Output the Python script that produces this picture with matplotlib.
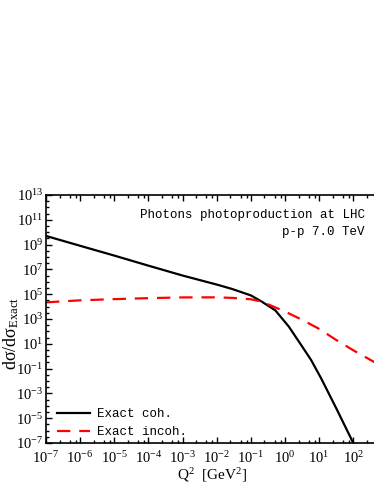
import numpy as np
import matplotlib
matplotlib.use('Agg')
import matplotlib.pyplot as plt
from matplotlib.ticker import FixedLocator, NullFormatter

plt.rcParams['font.family'] = 'Liberation Serif'
plt.rcParams['mathtext.fontset'] = 'custom'
plt.rcParams['mathtext.rm'] = 'Liberation Serif'
plt.rcParams['mathtext.it'] = 'Liberation Serif:italic'

# Datos

q2_coh = [1e-7, 1e-6, 1e-5, 1e-4, 1e-3, 1e-2, 2.75e-2, 1e-1, 2.1e-1, 5.2e-1,
          1.3, 3.2, 5.8, 11.5, 32, 100, 130]
sig_coh = [5e9, 8e8, 1.3e8, 2e7, 3.2e6, 6e5, 2.7e5, 8e4, 2.5e4, 5e3,
           2.4e2, 5.9, 0.5, 1.6e-2, 6e-5, 1e-7, 2.5e-8]

q2_incoh = [1e-7, 1e-6, 1e-5, 1e-4, 1e-3, 1e-2, 3e-2, 1e-1, 2.1e-1, 1.0,
            3.2, 10, 32, 100, 500]
sig_incoh = [2.2e4, 3.2e4, 4e4, 4.8e4, 5.5e4, 5.6e4, 5e4, 3.9e4, 2.5e4, 4e3,
             8.5e2, 1.6e2, 2e1, 3e0, 2.5e-1]

# Grafica

fig = plt.figure(figsize=(3.74, 4.84), dpi=100)
ax = fig.add_axes([46/374, 41/484, 332/374, 248/484])

ax.plot(q2_coh, sig_coh, color='black', lw=1.6, label='Exact coh.')
ax.plot(q2_incoh, sig_incoh, color='red', lw=1.6, dashes=(6, 4), label='Exact incoh.')

ax.set_xscale('log')
ax.set_yscale('log')
ax.set_xlim(1e-7, 5.3e2)
ax.set_ylim(1e-7, 1e13)

ax.xaxis.set_major_locator(FixedLocator([10.0**k for k in range(-7, 3)]))
ax.set_xticklabels(['$10^{%d}$' % k for k in range(-7, 3)])
ax.xaxis.set_minor_locator(FixedLocator([s * 10.0**k for k in range(-7, 3) for s in (2.5, 5, 7.5)]))
ax.xaxis.set_minor_formatter(NullFormatter())

ax.yaxis.set_major_locator(FixedLocator([10.0**k for k in range(-7, 14, 2)]))
ax.set_yticklabels(['$10^{%d}$' % k for k in range(-7, 14, 2)])
ax.yaxis.set_minor_locator(FixedLocator([10.0**(k / 2) for k in range(-14, 27)]))
ax.yaxis.set_minor_formatter(NullFormatter())

ax.tick_params(which='both', direction='in', top=True, right=False, labelsize=10.5, width=1)
ax.tick_params(which='major', length=4)
ax.tick_params(which='minor', length=2.5)
ax.tick_params(axis='y', pad=2)
ax.tick_params(axis='x', pad=5)
for s in ax.spines.values():
    s.set_linewidth(1.2)

ax.set_xlabel('Q$^2$  [GeV$^2$]', fontsize=11, labelpad=0)
ax.set_ylabel('dσ/dσ$_{\\mathrm{Exact}}$', fontsize=13)
ax.yaxis.set_label_coords(-0.075, 0.44)

ax.text(0.96, 0.92, 'Photons photoproduction at LHC', transform=ax.transAxes,
        ha='right', va='center', family='Liberation Mono', fontsize=9)
ax.text(0.96, 0.85, 'p-p 7.0 TeV', transform=ax.transAxes,
        ha='right', va='center', family='Liberation Mono', fontsize=9)

ax.legend(loc='lower left', frameon=False, prop={'family': 'Liberation Mono', 'size': 9},
          handlelength=2.6, handletextpad=0.6, labelspacing=0.45,
          bbox_to_anchor=(0.0, -0.025))

fig.savefig('out.png', dpi=100)
